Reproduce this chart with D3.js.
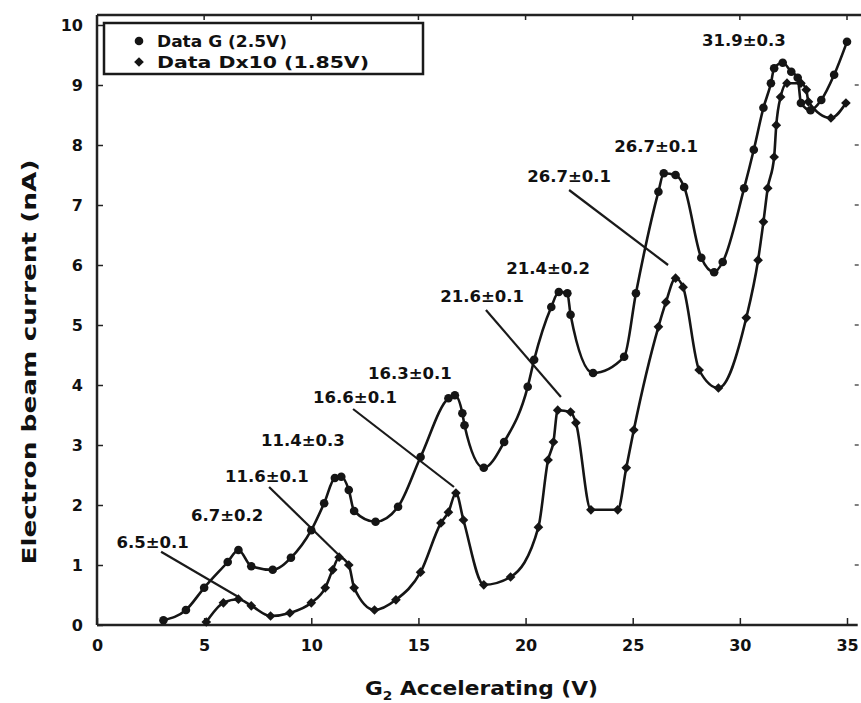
<!DOCTYPE html>
<html>
<head>
<meta charset="utf-8">
<script src="https://cdn.jsdelivr.net/npm/d3@7"></script>
<style>
  html, body { margin: 0; padding: 0; background: #fff; }
  svg { display: block; }
  text { font-family: "DejaVu Sans", sans-serif; font-weight: bold; fill: #111; }
</style>
</head>
<body>
<svg id="chart" width="861" height="703"></svg>
<script>
// Data G (2.5 V): [accelerating voltage (V), current (nA)]
const seriesG = [
  [3.1, 0.08], [4.15, 0.25], [5.0, 0.62], [6.1, 1.05], [6.6, 1.25], [7.2, 0.98],
  [8.2, 0.92], [9.05, 1.12], [10.0, 1.58], [10.6, 2.03], [11.1, 2.45], [11.4, 2.47],
  [11.75, 2.25], [12.0, 1.9], [13.0, 1.72], [14.05, 1.97], [15.1, 2.8], [16.4, 3.78],
  [16.7, 3.83], [17.05, 3.53], [17.15, 3.33], [18.05, 2.62], [19.0, 3.05], [20.1, 3.97],
  [20.4, 4.42], [21.2, 5.3], [21.55, 5.55], [21.95, 5.53], [22.1, 5.17], [23.15, 4.2],
  [24.6, 4.47], [25.15, 5.53], [26.2, 7.22], [26.45, 7.53], [27.0, 7.5], [27.4, 7.3],
  [28.2, 6.12], [28.8, 5.88], [29.2, 6.05], [30.2, 7.28], [30.65, 7.92], [31.1, 8.62],
  [31.45, 9.03], [31.6, 9.28], [32.0, 9.37], [32.4, 9.22], [32.7, 9.12], [32.85, 8.7],
  [33.3, 8.58], [33.8, 8.75], [34.4, 9.17], [35.0, 9.72]
];

// Data D x 10 (1.85 V): [accelerating voltage (V), current x10 (nA)]
const seriesD = [
  [5.1, 0.05], [5.9, 0.37], [6.6, 0.43], [7.2, 0.32], [8.1, 0.15], [9.0, 0.2],
  [10.0, 0.37], [10.65, 0.62], [11.0, 0.92], [11.3, 1.13], [11.75, 1.0], [12.0, 0.62],
  [12.95, 0.25], [13.95, 0.42], [15.1, 0.88], [16.05, 1.7], [16.4, 1.88], [16.75, 2.2],
  [17.1, 1.75], [18.05, 0.67], [19.3, 0.8], [20.6, 1.63], [21.05, 2.75], [21.3, 3.05],
  [21.5, 3.58], [22.1, 3.55], [22.35, 3.37], [23.05, 1.92], [24.3, 1.92], [24.7, 2.62],
  [25.05, 3.25], [26.2, 4.97], [26.55, 5.38], [27.0, 5.78], [27.35, 5.63], [28.1, 4.25],
  [29.0, 3.95], [30.3, 5.12], [30.85, 6.08], [31.1, 6.72], [31.3, 7.28], [31.6, 7.8],
  [31.7, 8.33], [31.9, 8.8], [32.2, 9.03], [32.85, 9.03], [33.1, 8.92], [33.2, 8.72],
  [34.25, 8.45], [34.95, 8.7]
];

const xTicks = [0, 5, 10, 15, 20, 25, 30, 35];
const yTicks = [0, 1, 2, 3, 4, 5, 6, 7, 8, 9, 10];

const legendLabels = ["Data G (2.5V)", "Data Dx10 (1.85V)"];

// Peak annotations: label text and anchor (text centre) in data units
const peakLabels = [
  { text: "6.5±0.1",  x: 2.6,   y: 1.37 },
  { text: "6.7±0.2",  x: 6.07,  y: 1.82 },
  { text: "11.6±0.1", x: 7.93,  y: 2.48 },
  { text: "11.4±0.3", x: 9.61,  y: 3.07 },
  { text: "16.6±0.1", x: 12.04, y: 3.8 },
  { text: "16.3±0.1", x: 14.6,  y: 4.2 },
  { text: "21.6±0.1", x: 17.97, y: 5.48 },
  { text: "21.4±0.2", x: 21.05, y: 5.95 },
  { text: "26.7±0.1", x: 22.03, y: 7.47 },
  { text: "26.7±0.1", x: 26.09, y: 7.97 },
  { text: "31.9±0.3", x: 30.19, y: 9.75 }
];

// Leader lines from labels to the D x 10 peaks
const leaders = [
  [[2.99, 1.22], [6.58, 0.47]],
  [[8.03, 2.3], [11.39, 1.13]],
  [[11.95, 3.6], [16.66, 2.3]],
  [[18.15, 5.25], [21.65, 3.8]],
  [[22.03, 7.25], [26.65, 6.0]]
];

const svg = d3.select("#chart");

const x = d3.scaleLinear().domain([0, 35]).range([97, 847]);
const y = d3.scaleLinear().domain([0, 10]).range([625, 25]);

const plotLeft = x(0), plotRight = x(35.5), plotBottom = y(0), plotTop = 15;

// Frame
svg.append("line").attr("x1", plotLeft).attr("x2", 861).attr("y1", plotTop).attr("y2", plotTop)
  .attr("stroke", "#222").attr("stroke-width", 2.5);

// Bottom axis (ticks point inward)
const xAxis = svg.append("g").attr("transform", `translate(0,${plotBottom})`)
  .call(d3.axisBottom(x).tickValues(xTicks).tickSizeInner(-7).tickSizeOuter(0).tickPadding(15).tickFormat(d3.format("d")));
xAxis.select(".domain").attr("d", `M${plotLeft},0H${plotRight}`).attr("stroke", "#222").attr("stroke-width", 2.5);
xAxis.selectAll(".tick line").attr("stroke", "#222").attr("stroke-width", 1.5);
xAxis.selectAll(".tick text").attr("font-size", 16).attr("font-family", "DejaVu Sans").attr("font-weight", "bold").attr("fill", "#111");

// Left axis (ticks point inward)
const yAxis = svg.append("g").attr("transform", `translate(${plotLeft},0)`)
  .call(d3.axisLeft(y).tickValues(yTicks).tickSizeInner(-6).tickSizeOuter(0).tickPadding(14).tickFormat(d3.format("d")));
yAxis.select(".domain").attr("d", `M0,${plotTop}V${plotBottom}`).attr("stroke", "#222").attr("stroke-width", 2.5);
yAxis.selectAll(".tick line").attr("stroke", "#222").attr("stroke-width", 1.5);
yAxis.selectAll(".tick text").attr("font-size", 16).attr("font-family", "DejaVu Sans").attr("font-weight", "bold").attr("fill", "#111");

// Right edge: tick marks only
svg.append("g").selectAll("line").data(yTicks.filter(d => d > 0 && d < 10)).join("line")
  .attr("x1", plotRight - 3).attr("x2", plotRight + 1)
  .attr("y1", d => y(d)).attr("y2", d => y(d))
  .attr("stroke", "#555").attr("stroke-width", 1.5);

// Top edge: small downward ticks
svg.append("g").selectAll("line").data(xTicks.filter(d => d > 0)).join("line")
  .attr("x1", d => x(d)).attr("x2", d => x(d))
  .attr("y1", plotTop).attr("y2", plotTop + 5)
  .attr("stroke", "#222").attr("stroke-width", 1.5);

// Axis titles
svg.append("text")
  .attr("transform", `translate(36,${(plotTop + plotBottom) / 2 + 42}) rotate(-90)`)
  .attr("text-anchor", "middle").attr("font-size", 19)
  .attr("textLength", 405).attr("lengthAdjust", "spacingAndGlyphs")
  .text("Electron beam current (nA)");

const xTitle = svg.append("text")
  .attr("x", 365).attr("y", 695)
  .attr("font-size", 19)
  .attr("textLength", 233).attr("lengthAdjust", "spacingAndGlyphs");
xTitle.append("tspan").text("G");
xTitle.append("tspan").attr("font-size", 12).attr("dy", 5).text("2");
xTitle.append("tspan").attr("dy", -5).text(" Accelerating (V)");

// Leader lines
svg.append("g").selectAll("line").data(leaders).join("line")
  .attr("x1", d => x(d[0][0])).attr("y1", d => y(d[0][1]))
  .attr("x2", d => x(d[1][0])).attr("y2", d => y(d[1][1]))
  .attr("stroke", "#1a1a1a").attr("stroke-width", 2.2);

// Series curves (monotone smoothing keeps flat runs flat)
const line = d3.line()
  .x(d => x(d[0])).y(d => y(d[1]))
  .curve(d3.curveMonotoneX);

[seriesD, seriesG].forEach(s => {
  svg.append("path").datum(s).attr("d", line)
    .attr("fill", "none").attr("stroke", "#151515").attr("stroke-width", 2.6)
    .attr("stroke-linejoin", "round");
});

// Markers
const diamondType = d3.symbolDiamond2 || d3.symbolDiamond;
const diamond = d3.symbol().type(diamondType).size(60);
svg.append("g").selectAll("path").data(seriesD).join("path")
  .attr("d", diamond)
  .attr("transform", d => `translate(${x(d[0])},${y(d[1])})`)
  .attr("fill", "#151515");
svg.append("g").selectAll("circle").data(seriesG).join("circle")
  .attr("cx", d => x(d[0])).attr("cy", d => y(d[1])).attr("r", 4.3)
  .attr("fill", "#151515");

// Peak labels
svg.append("g").selectAll("text").data(peakLabels).join("text")
  .attr("x", d => x(d.x)).attr("y", d => y(d.y))
  .attr("text-anchor", "middle").attr("dominant-baseline", "central")
  .attr("font-size", 16.5)
  .text(d => d.text);

// Legend
const legend = svg.append("g");
legend.append("rect")
  .attr("x", 104).attr("y", 23).attr("width", 319).attr("height", 51)
  .attr("fill", "#fff").attr("stroke", "#1a1a1a").attr("stroke-width", 2.5);
const legendRows = [41, 62];
legend.append("circle").attr("cx", 139).attr("cy", legendRows[0]).attr("r", 4.3).attr("fill", "#151515");
legend.append("path").attr("d", diamond).attr("transform", `translate(139,${legendRows[1]})`).attr("fill", "#151515");
legend.selectAll("text.lg").data(legendLabels).join("text")
  .attr("class", "lg")
  .attr("x", 157).attr("y", (d, i) => legendRows[i])
  .attr("dominant-baseline", "central")
  .attr("font-size", 16)
  .attr("textLength", (d, i) => i === 0 ? 130 : 212)
  .attr("lengthAdjust", "spacingAndGlyphs")
  .text(d => d);
</script>
</body>
</html>
